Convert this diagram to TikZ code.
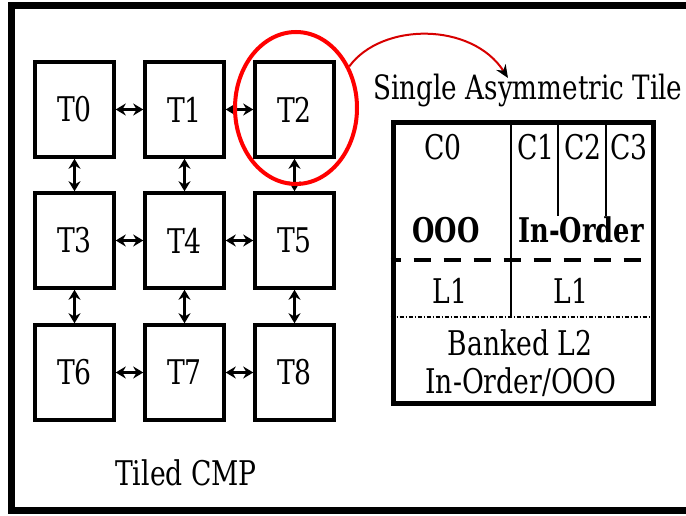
\documentclass[tikz,border=0pt]{standalone}
\usepackage{fontspec}
\setmainfont{DejaVu Serif Condensed}[FakeStretch=0.87, BoldFeatures={FakeStretch=0.84}]
\usetikzlibrary{arrows.meta,shapes.geometric}
\begin{document}
\begin{tikzpicture}[x=1pt,y=-1pt,
  lbl/.style={font=\fontsize{34}{40}\selectfont, inner sep=0pt, anchor=base},
  tilebox/.style={draw, line width=3.5pt, minimum width=79pt, minimum height=95pt,
    inner sep=0pt, font=\fontsize{34}{40}\selectfont},
  link/.style={line width=3.2pt, {Stealth[length=10pt,width=12pt]}-{Stealth[length=10pt,width=12pt]}},
  thin/.style={line width=1.4pt}]
\useasboundingbox (0,0) rectangle (686,516);
\clip (0,0) rectangle (686,516);
% outer frame (right side runs off the page)
\draw[line width=7pt] (11.5,5.5) rectangle (720,510.5);

% 3x3 grid of tiles
\node[tilebox] (t0) at (74.5,109.5) {T0};
\node[tilebox] (t1) at (184.5,109.5) {T1};
\node[tilebox] (t2) at (294.5,109.5) {T2};
\node[tilebox] (t3) at (74.5,240.5) {T3};
\node[tilebox] (t4) at (184.5,240.5) {T4};
\node[tilebox] (t5) at (294.5,240.5) {T5};
\node[tilebox] (t6) at (74.5,372.5) {T6};
\node[tilebox] (t7) at (184.5,372.5) {T7};
\node[tilebox] (t8) at (294.5,372.5) {T8};

% mesh links
\draw[link] (t0) -- (t1);
\draw[link] (t1) -- (t2);
\draw[link] (t3) -- (t4);
\draw[link] (t4) -- (t5);
\draw[link] (t6) -- (t7);
\draw[link] (t7) -- (t8);
\draw[link] (t0) -- (t3);
\draw[link] (t3) -- (t6);
\draw[link] (t1) -- (t4);
\draw[link] (t4) -- (t7);
\draw[link] (t2) -- (t5);
\draw[link] (t5) -- (t8);

\node[lbl] (cmp) at (186,485) {Tiled CMP};

% highlighted tile and the callout arc
\node[ellipse, draw=red, line width=4pt, minimum width=122pt, minimum height=152pt,
  inner sep=0pt] (focus) at (296,108) {};
\coordinate (tip) at (508,78);
\draw[line width=2pt, draw={rgb,255:red,215;green,0;blue,0}, -{Stealth[black,length=13pt,width=11pt]}]
  (focus.38) .. controls (382,22) and (472,22) .. (tip);

% detail of one asymmetric tile
\node[lbl, font=\fontsize{33.5}{40}\selectfont] (title) at (528,100) {Single Asymmetric Tile};
\node[draw, line width=5pt, minimum width=260pt, minimum height=280pt, inner sep=0pt,
  anchor=north west] (tile) at (390.5,120.5) {};
\draw[thin] (511,120.5) -- (511,317);
\draw[thin] (558,120.5) -- (558,216);
\draw[thin] (606,120.5) -- (606,216);
\draw[line width=3.5pt, dash pattern=on 17pt off 13pt, dash phase=7pt] (390.5,260) -- (650.5,260);
\draw[line width=1.3pt, dash pattern=on 4pt off 2pt on 1pt off 2pt] (390.5,317) -- (650.5,317);

\node[lbl] (c0) at (443,160) {C0};
\node[lbl] (c1) at (536,160) {C1};
\node[lbl] (c2) at (583,160) {C2};
\node[lbl] (c3) at (629,160) {C3};
\node[lbl, font=\fontsize{34}{40}\selectfont\bfseries] (ooo) at (446,243) {OOO};
\node[lbl, font=\fontsize{34}{40}\selectfont\bfseries] (ino) at (581,243) {In-Order};
\node[lbl] (l1a) at (450,303) {L1};
\node[lbl] (l1b) at (571,303) {L1};
\node[lbl] (l2) at (520,355) {Banked L2};
\node[lbl] (l2b) at (521,393) {In-Order/OOO};
\end{tikzpicture}
\end{document}
